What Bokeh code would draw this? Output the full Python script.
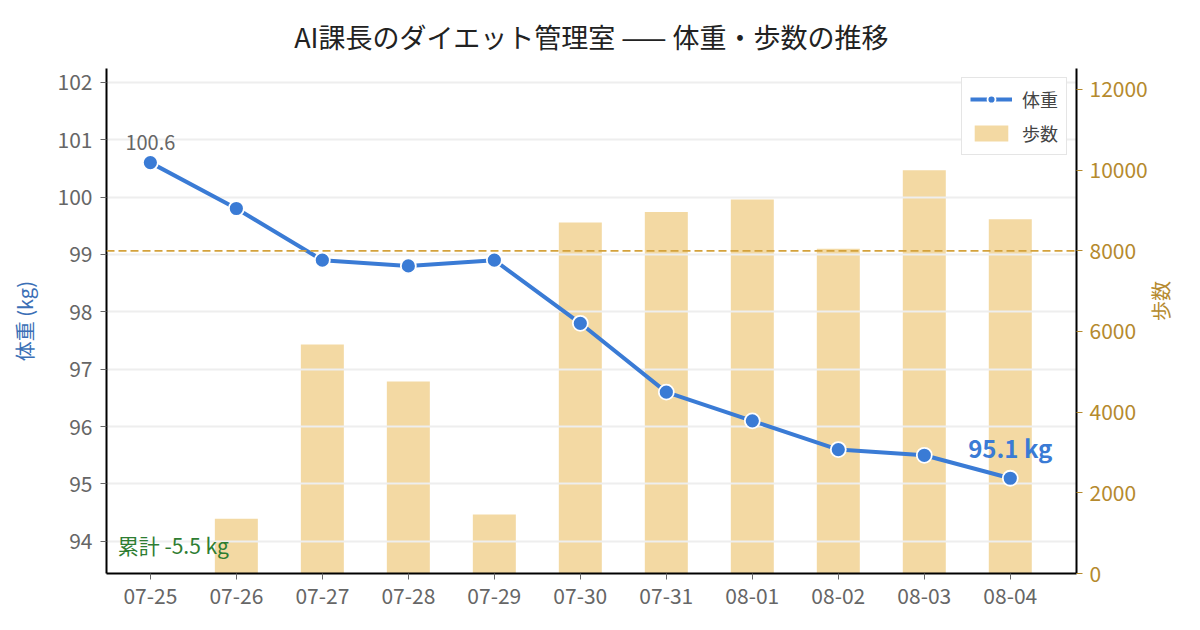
import math

from bokeh.plotting import figure
from bokeh.models import (Range1d, LinearAxis, FixedTicker, Span, Label,
                          Legend, LegendItem, ColumnDataSource)
from bokeh.embed import file_html
from bokeh.resources import INLINE

# data
dates = ["07-25", "07-26", "07-27", "07-28", "07-29", "07-30",
         "07-31", "08-01", "08-02", "08-03", "08-04"]
weight = [100.6, 99.8, 98.9, 98.8, 98.9, 97.8, 96.6, 96.1, 95.6, 95.5, 95.1]
steps = [0, 1360, 5680, 4760, 1460, 8700, 8960, 9270, 8050, 10000, 8780]
step_goal = 8000
weight_ticks = [94, 95, 96, 97, 98, 99, 100, 101, 102]
step_ticks = [0, 2000, 4000, 6000, 8000, 10000, 12000]

FONT = "Noto Sans CJK JP"
BLUE = "#3a7bd5"
GOLD = "#b58a2e"
BAR = "#f3d9a3"

idx = list(range(len(dates)))
src = ColumnDataSource(dict(x=idx, w=weight, s=steps))

p = figure(width=1192, height=614, output_backend="svg", toolbar_location=None,
           x_range=Range1d(-0.51, 10.77), y_range=Range1d(93.44, 102.24),
           min_border_left=106, min_border_right=116, min_border_top=68,
           min_border_bottom=41)
p.outline_line_color = None
p.title.text = "AI課長のダイエット管理室 —— 体重・歩数の推移"
p.title.align = "center"
p.title.text_font = FONT
p.title.text_font_size = "27px"
p.title.text_font_style = "normal"
p.title.text_color = "#222222"
p.title.standoff = 25

p.extra_y_ranges = {"steps": Range1d(0, 12520)}

# bars (steps) under the grid
bars = p.vbar(x="x", top="s", width=0.5, source=src, y_range_name="steps",
              fill_color=BAR, line_color=None, level="underlay")

p.xgrid.visible = False
p.ygrid.ticker = FixedTicker(ticks=weight_ticks)
p.ygrid.grid_line_color = "#eeeeee"
p.ygrid.grid_line_width = 2
p.ygrid.level = "glyph"

goal = Span(location=step_goal, dimension="width", y_range_name="steps",
            line_color="#d4a23c", line_dash="8 4", line_width=1.8)
p.add_layout(goal)

line = p.line("x", "w", source=src, line_color=BLUE, line_width=4, level="guide")
dots = p.scatter("x", "w", source=src, size=15, fill_color=BLUE,
                 line_color="white", line_width=1.8, level="guide")

# axes
p.xaxis.ticker = FixedTicker(ticks=idx)
p.xaxis.major_label_overrides = {i: d for i, d in zip(idx, dates)}
p.yaxis.ticker = FixedTicker(ticks=weight_ticks)
p.yaxis.axis_label = "体重 (kg)"
p.yaxis.axis_label_text_color = "#3b6fb6"
p.yaxis.axis_label_standoff = 16

right = LinearAxis(y_range_name="steps", ticker=FixedTicker(ticks=step_ticks),
                   axis_label="歩数")
right.axis_label_text_color = GOLD
right.major_label_text_color = GOLD
p.add_layout(right, "right")
try:
    right.axis_label_orientation = math.pi / 2
except Exception:
    pass

for ax in [p.xaxis[0], p.yaxis[0], right]:
    ax.axis_line_color = "black"
    ax.axis_line_width = 2
    ax.minor_tick_line_color = None
    ax.major_tick_in = 0
    ax.major_tick_out = 6
    ax.major_label_standoff = 8
    ax.major_label_text_font = FONT
    ax.major_label_text_font_size = "21px"
    ax.axis_label_text_font = FONT
    ax.axis_label_text_font_size = "20px"
    ax.axis_label_text_font_style = "normal"
for ax in [p.xaxis[0], p.yaxis[0]]:
    ax.major_label_text_color = "#666666"
    ax.major_tick_line_color = "#666666"
right.major_tick_line_color = GOLD
right.major_label_standoff = 7
right.axis_label_standoff = 10

# annotations
p.add_layout(Label(x=idx[0], y=weight[0], text=f"{weight[0]:.1f}",
                   y_offset=13, text_align="center", text_color="#666666",
                   text_font=FONT, text_font_size="20px"))
p.add_layout(Label(x=idx[-1], y=weight[-1], text=f"{weight[-1]:.1f} kg",
                   y_offset=13, text_align="center",
                   text_color=BLUE, text_font=FONT, text_font_size="24px",
                   text_font_style="bold"))
p.add_layout(Label(x=-0.38, y=93.44, text=f"累計 {weight[-1] - weight[0]:.1f} kg",
                   y_offset=14, text_color="#2e7d32", text_font=FONT,
                   text_font_size="21px"))

legend = Legend(items=[LegendItem(label="体重", renderers=[line, dots]),
                       LegendItem(label="歩数", renderers=[bars])],
                location="top_right", label_text_font=FONT,
                label_text_font_size="18px", border_line_color="#cccccc",
                border_line_width=1.5, background_fill_alpha=1.0,
                glyph_width=42, glyph_height=20, spacing=8, padding=8,
                label_standoff=10, margin=9)
p.add_layout(legend)

open("out.html", "w").write(file_html(p, INLINE))
